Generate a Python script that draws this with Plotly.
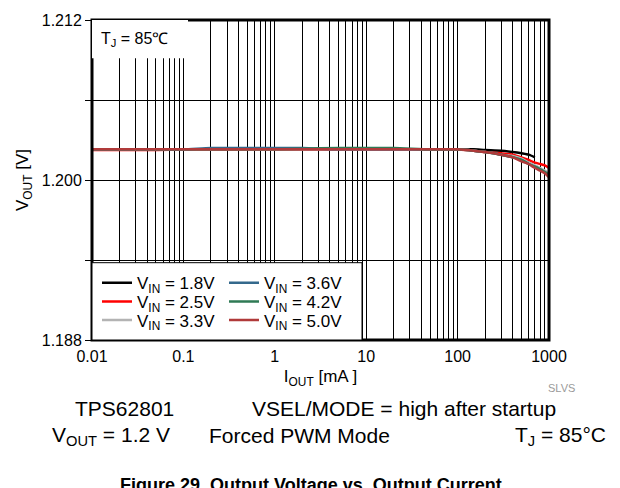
import plotly.graph_objects as go

# ---------------- data ----------------
iout_ma = [0.01, 0.02, 0.05, 0.1, 0.2, 0.5, 1, 2, 5, 10, 20, 50, 100,
           150, 200, 300, 400, 500, 600, 700, 800, 900, 1000]
iout_ma_18 = iout_ma[:20]

vout_18 = [1.2023, 1.2023, 1.2023, 1.2023, 1.2023, 1.2023, 1.2023, 1.2023, 1.2023, 1.2023,
           1.2023, 1.2023, 1.2023, 1.2023, 1.20225, 1.2022, 1.2021, 1.2020, 1.2019, 1.2017]
vout_25 = [1.20225, 1.20225, 1.20225, 1.20228, 1.20228, 1.2023, 1.2023, 1.2023, 1.2023, 1.2023,
           1.2023, 1.2023, 1.20228, 1.2022, 1.2021, 1.2020, 1.2019, 1.2017, 1.2015, 1.2013,
           1.2012, 1.2011, 1.2009]
vout_33 = [1.2023, 1.2023, 1.2023, 1.2023, 1.2023, 1.2023, 1.2023, 1.2023, 1.2023, 1.2023,
           1.2023, 1.2023, 1.2023, 1.2022, 1.2021, 1.2019, 1.2018, 1.2016, 1.2013, 1.2011,
           1.2009, 1.2007, 1.2005]
vout_36 = [1.2023, 1.2023, 1.2023, 1.2023, 1.2024, 1.2024, 1.2024, 1.2024, 1.2023, 1.2023,
           1.2023, 1.2023, 1.2023, 1.2022, 1.2021, 1.2019, 1.2017, 1.2015, 1.2012, 1.2010,
           1.2008, 1.2006, 1.2003]
vout_42 = [1.2023, 1.2023, 1.2023, 1.2023, 1.2023, 1.2023, 1.2023, 1.20235, 1.2024, 1.2024,
           1.2024, 1.2023, 1.2023, 1.2022, 1.2021, 1.2019, 1.2017, 1.2015, 1.2012, 1.2010,
           1.2008, 1.2006, 1.2004]
vout_50 = [1.2023, 1.2023, 1.2023, 1.2023, 1.2023, 1.2023, 1.2023, 1.2023, 1.2023, 1.2023,
           1.2023, 1.2023, 1.2023, 1.2022, 1.2021, 1.2019, 1.2017, 1.2014, 1.2012, 1.2009,
           1.2007, 1.2005, 1.2002]

series_names = ["V<sub>IN</sub> = 1.8V", "V<sub>IN</sub> = 2.5V", "V<sub>IN</sub> = 3.3V",
                "V<sub>IN</sub> = 3.6V", "V<sub>IN</sub> = 4.2V", "V<sub>IN</sub> = 5.0V"]
series_colors = ["#000000", "#ff0000", "#b3b3b3", "#34698c", "#2f7a55", "#b03a3a"]
series_legend = ["legend", "legend2", "legend3", "legend", "legend2", "legend3"]

x_major = [0.01, 0.1, 1, 10, 100, 1000]
x_major_text = ["0.01", "0.1", "1", "10", "100", "1000"]
y_ticks = [1.188, 1.194, 1.200, 1.206, 1.212]
y_tick_text = ["1.188", "", "1.200", "", "1.212"]

# ---------------- layout geometry (pixels) ----------------
W, H = 620, 488
L, R, T, B = 92, 549, 13, 340
PW, PH = R - L, B - T


def fx(px):
    return (px - L) / PW


def fy(py):
    return (B - py) / PH


# all gridline positions (1..9 per decade)
x_grid = []
x_grid_text = []
for d in x_major[:-1]:
    for m in range(1, 10):
        x_grid.append(round(d * m, 6))
        x_grid_text.append(x_major_text[x_major.index(d)] if m == 1 else "")
x_grid.append(1000)
x_grid_text.append("1000")

FONT = "Liberation Sans, Arial, sans-serif"

fig = go.Figure()
xs = [iout_ma_18, iout_ma, iout_ma, iout_ma, iout_ma, iout_ma]
ys = [vout_18, vout_25, vout_33, vout_36, vout_42, vout_50]
for xv, yv, name, col, lg in zip(xs, ys, series_names, series_colors, series_legend):
    fig.add_trace(go.Scatter(x=xv, y=yv, mode="lines", name=name, legend=lg,
                             line=dict(color=col, width=2.5, shape="spline", smoothing=0.6)))

legend_common = dict(orientation="h", entrywidth=82, entrywidthmode="pixels",
                     bgcolor="rgba(0,0,0,0)", borderwidth=0,
                     font=dict(family=FONT, size=17, color="black"),
                     x=fx(97), xanchor="left", yanchor="middle", tracegroupgap=0)

fig.update_layout(
    width=W, height=H, autosize=False,
    margin=dict(l=L, r=W - R, t=T, b=H - B, pad=0),
    paper_bgcolor="white", plot_bgcolor="white",
    font=dict(family=FONT, size=16, color="black"),
    showlegend=True,
    legend=dict(legend_common, y=fy(282)),
    legend2=dict(legend_common, y=fy(301)),
    legend3=dict(legend_common, y=fy(320)),
    xaxis=dict(type="log", range=[-2, 3], tickmode="array", tickvals=x_grid, ticktext=x_grid_text,
               showgrid=True, gridcolor="black", gridwidth=1, ticks="", zeroline=False,
               showline=False, tickfont=dict(size=16), ticklabelstandoff=5,
               title=dict(text="I<sub>OUT</sub> [mA ]", font=dict(size=17), standoff=6)),
    yaxis=dict(range=[1.188, 1.212], tickmode="array", tickvals=y_ticks, ticktext=y_tick_text,
               showgrid=True, gridcolor="black", gridwidth=1, ticks="outside", ticklen=6,
               tickcolor="black", zeroline=False, showline=False, tickfont=dict(size=16),
               title=dict(text="V<sub>OUT</sub> [V]", font=dict(size=17), standoff=8)),
    shapes=[
        dict(type="rect", xref="paper", yref="paper", x0=0, x1=1, y0=0, y1=1,
             line=dict(color="black", width=3), fillcolor="rgba(0,0,0,0)", layer="above"),
        dict(type="rect", xref="paper", yref="paper", x0=0, x1=fx(188), y0=fy(52), y1=1,
             line=dict(width=0), fillcolor="white", layer="above"),
        dict(type="rect", xref="paper", yref="paper", x0=0, x1=fx(362), y0=0, y1=fy(261),
             line=dict(color="black", width=1), fillcolor="white", layer="above"),
    ],
)

ann = [
    dict(text="T<sub>J</sub> = 85\u2103", x=fx(99), y=fy(33), xanchor="left", yanchor="middle",
         font=dict(size=16)),
    dict(text="SLVS", x=fx(561), y=fy(389), xanchor="center", yanchor="middle",
         font=dict(size=11, color="#9a9a9a")),
    dict(text="TPS62801", x=fx(73), y=fy(410), xanchor="left", yanchor="middle",
         font=dict(size=21)),
    dict(text="VSEL/MODE = high after startup", x=fx(250), y=fy(410), xanchor="left",
         yanchor="middle", font=dict(size=21)),
    dict(text="V<sub>OUT</sub> = 1.2 V", x=fx(50), y=fy(438), xanchor="left", yanchor="middle",
         font=dict(size=21)),
    dict(text="Forced PWM Mode", x=fx(207), y=fy(438), xanchor="left", yanchor="middle",
         font=dict(size=21)),
    dict(text="T<sub>J</sub> = 85\u00b0C", x=fx(608), y=fy(438), xanchor="right",
         yanchor="middle", font=dict(size=21)),
    dict(text="<b>Figure 29. Output Voltage vs. Output Current</b>", x=fx(311), y=fy(476),
         xanchor="center", yanchor="top", font=dict(size=18)),
]
for a in ann:
    a.update(xref="paper", yref="paper", showarrow=False)
fig.update_layout(annotations=ann)

fig.write_html("out.html")
